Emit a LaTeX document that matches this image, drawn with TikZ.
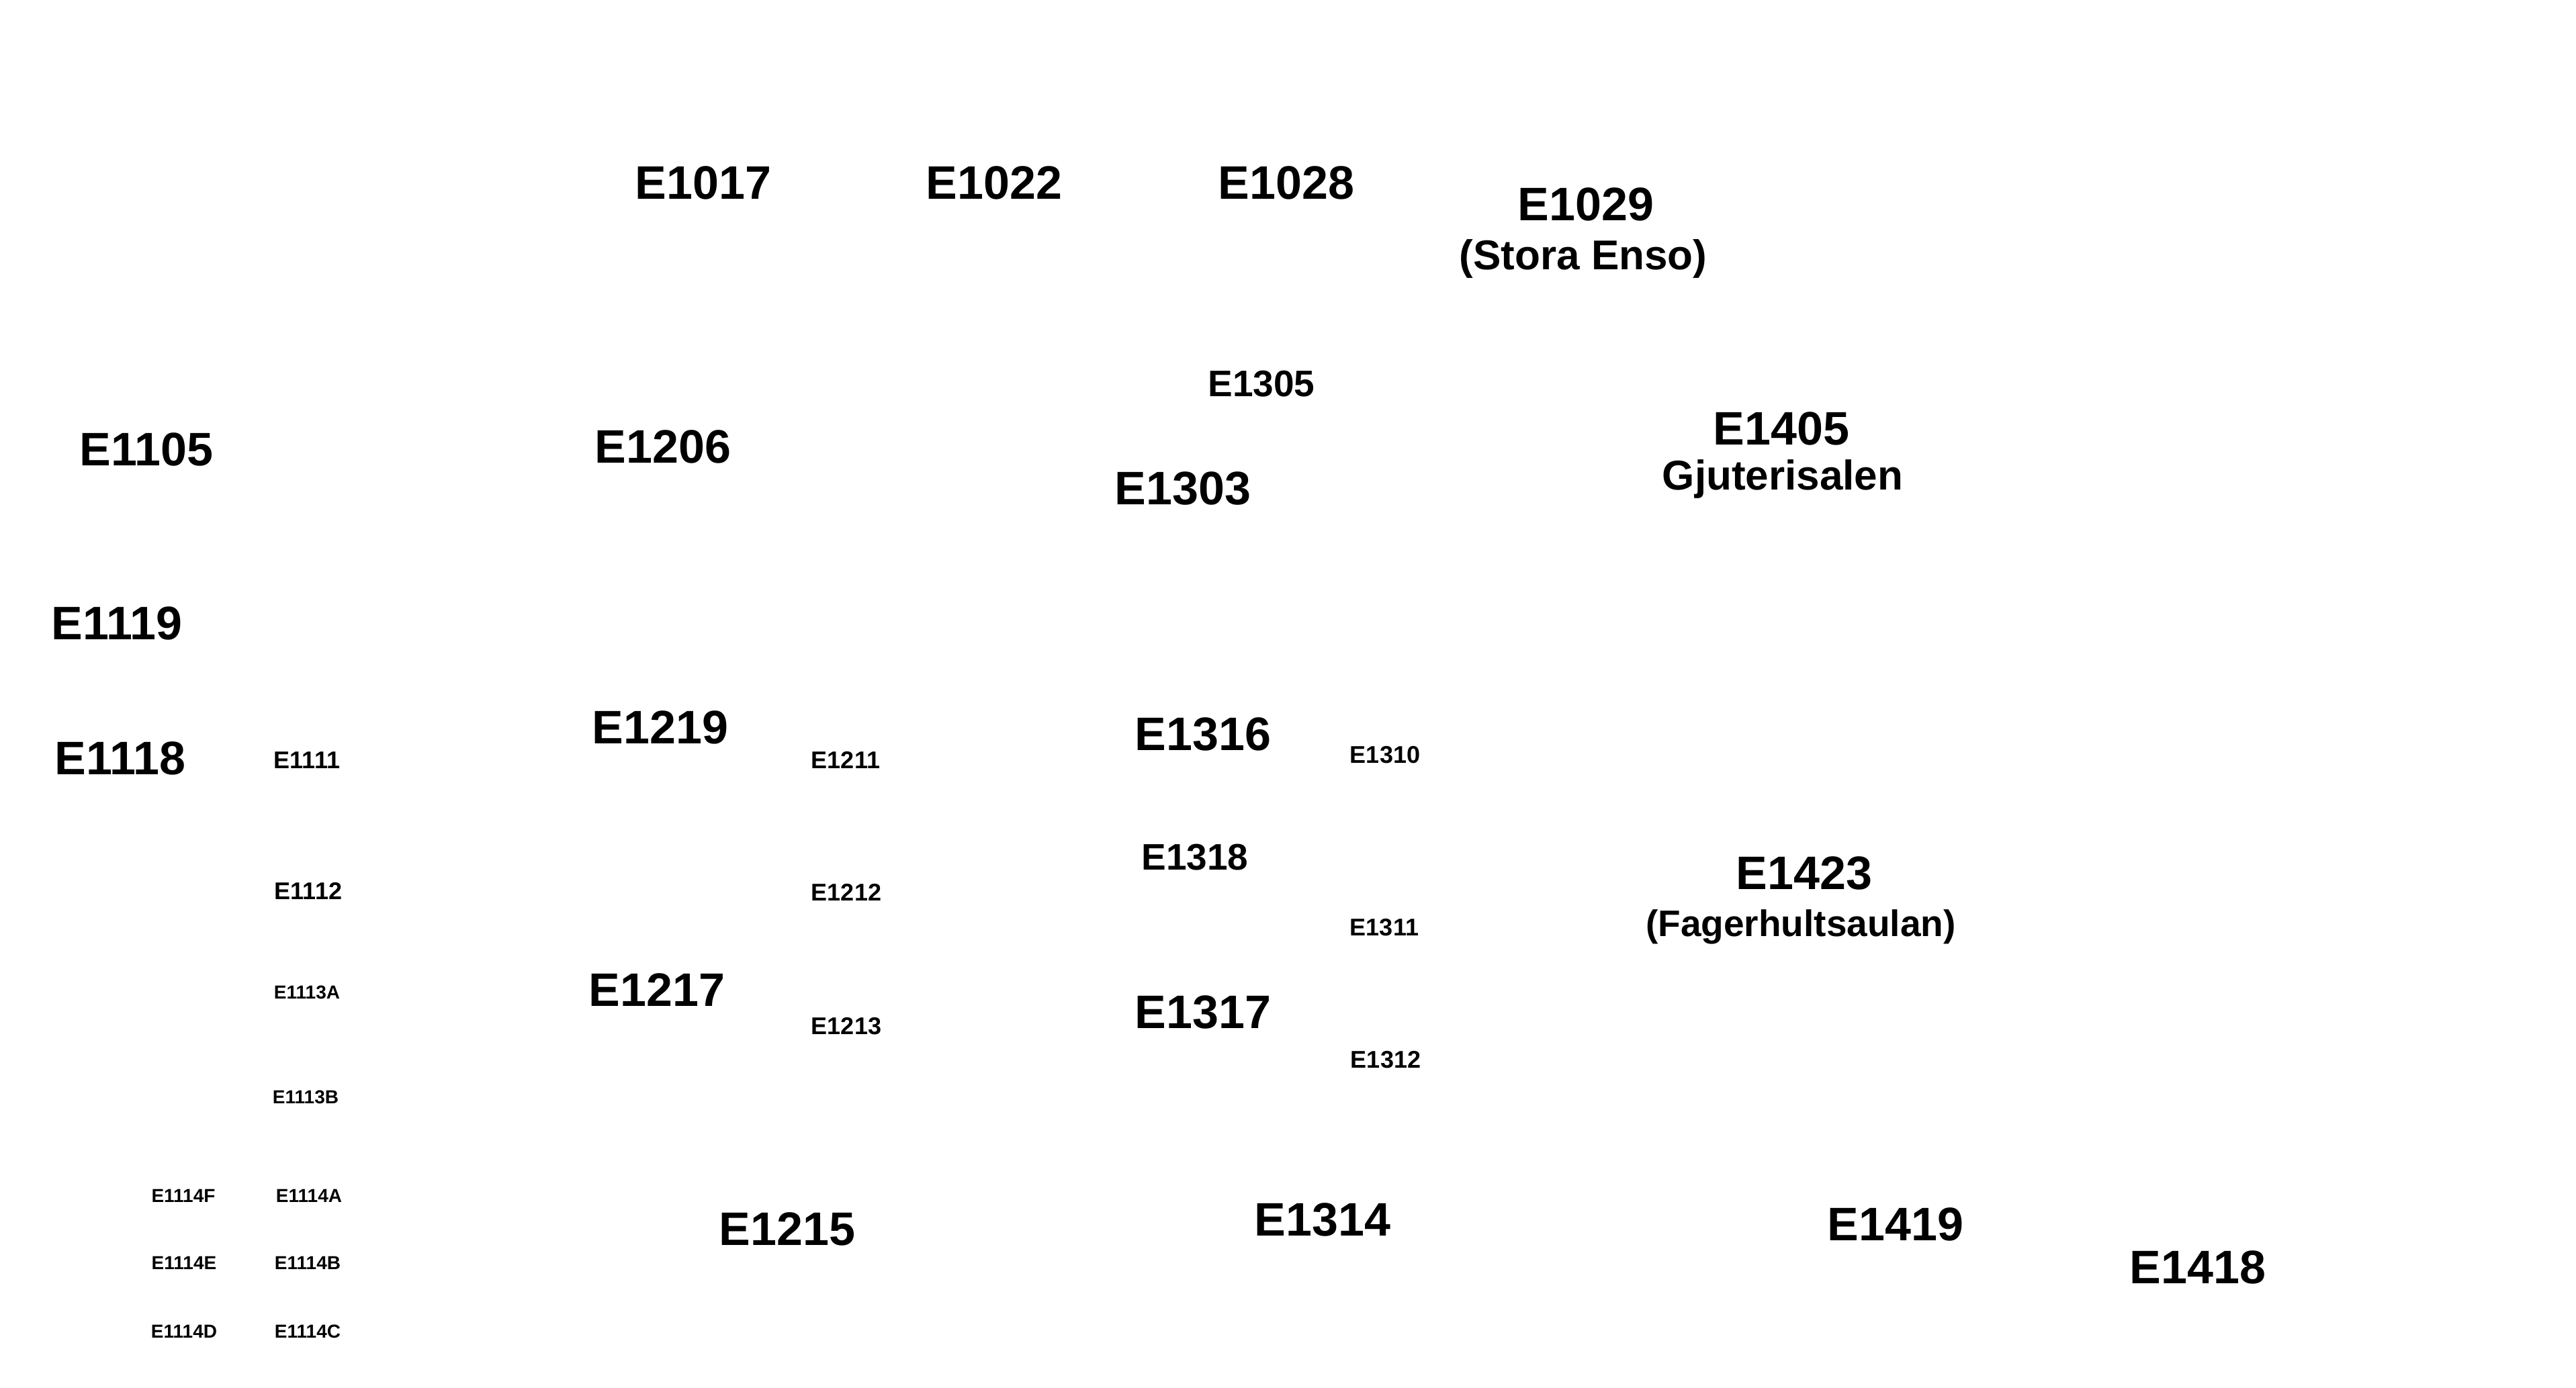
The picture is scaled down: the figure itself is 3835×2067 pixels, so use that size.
\documentclass[tikz,border=0pt]{standalone}
\usepackage{fontspec}
\setmainfont{Liberation Sans}
\begin{document}
\begin{tikzpicture}[x=0.25pt,y=-0.25pt,
  lbl/.style={anchor=base,inner sep=0pt,outer sep=0pt},
  lg/.style={lbl,font=\fontsize{17.5}{20}\selectfont\bfseries},
  subt/.style={lbl,font=\fontsize{15.5}{18}\selectfont\bfseries},
  md/.style={lbl,font=\fontsize{13.75}{16}\selectfont\bfseries},
  sm/.style={lbl,font=\fontsize{9}{11}\selectfont\bfseries},
  tn/.style={lbl,font=\fontsize{7}{9}\selectfont\bfseries}]
\fill[white] (0,0) rectangle (3835,2067);
\path[use as bounding box] (0,0) rectangle (3835,2067);
% top row
\node[lg] (e1017) at (1047,296) {E1017};
\node[lg] (e1022) at (1480,296) {E1022};
\node[lg] (e1028) at (1915,296) {E1028};
\node[lg] (e1029) at (2361,328) {E1029};
\node[subt] (e1029s) at (2357,401) {(Stora Enso)};
% second row
\node[md] (e1305) at (1878,590) {E1305};
\node[lg] (e1105) at (218,693) {E1105};
\node[lg] (e1206) at (987,689) {E1206};
\node[lg] (e1303) at (1761,751) {E1303};
\node[lg] (e1405) at (2652,662) {E1405};
\node[subt] (e1405s) at (2654,729) {Gjuterisalen};
% left column
\node[lg] (e1119) at (174,952) {E1119};
\node[lg] (e1118) at (179,1153) {E1118};
\node[sm] (e1111) at (457,1144) {E1111};
\node[sm] (e1112) at (459,1339) {E1112};
\node[tn] (e1113a) at (457,1487) {E1113A};
\node[tn] (e1113b) at (455,1643) {E1113B};
\node[tn] (e1114f) at (273,1790) {E1114F};
\node[tn] (e1114a) at (460,1790) {E1114A};
\node[tn] (e1114e) at (274,1890) {E1114E};
\node[tn] (e1114b) at (458,1890) {E1114B};
\node[tn] (e1114d) at (274,1992) {E1114D};
\node[tn] (e1114c) at (458,1992) {E1114C};
% 12xx
\node[lg] (e1219) at (983,1107) {E1219};
\node[lg] (e1217) at (978,1498) {E1217};
\node[sm] (e1211) at (1259,1144) {E1211};
\node[sm] (e1212) at (1260,1341) {E1212};
\node[sm] (e1213) at (1260,1540) {E1213};
\node[lg] (e1215) at (1172,1854) {E1215};
% 13xx
\node[lg] (e1316) at (1791,1117) {E1316};
\node[md] (e1318) at (1779,1295) {E1318};
\node[lg] (e1317) at (1791,1531) {E1317};
\node[sm] (e1310) at (2062,1136) {E1310};
\node[sm] (e1311) at (2061,1393) {E1311};
\node[sm] (e1312) at (2063,1590) {E1312};
\node[lg] (e1314) at (1969,1840) {E1314};
% 14xx
\node[lg] (e1423) at (2686,1324) {E1423};
\node[md] (e1423s) at (2681,1394) {(Fagerhultsaulan)};
\node[lg] (e1419) at (2822,1847) {E1419};
\node[lg] (e1418) at (3272,1911) {E1418};
\end{tikzpicture}
\end{document}
